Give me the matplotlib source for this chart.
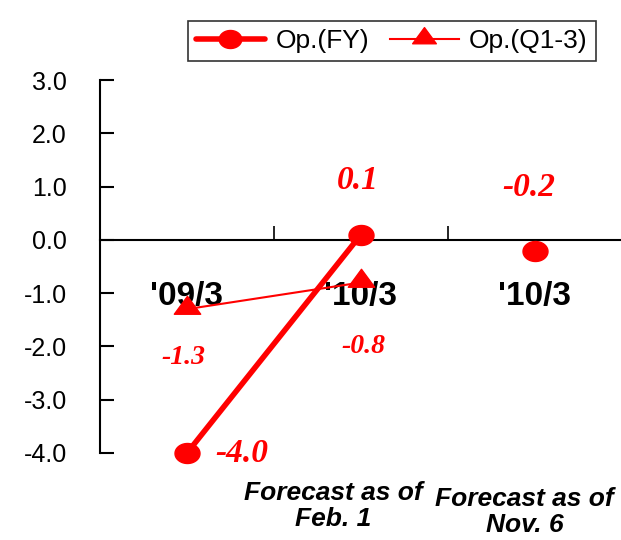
import matplotlib
matplotlib.use("Agg")
import numpy as np
import matplotlib.pyplot as plt
from matplotlib.path import Path
from matplotlib.transforms import blended_transform_factory

plt.rcParams['font.family'] = ['Liberation Sans', 'DejaVu Sans']

# Category labels and sub-captions
categories = ["'09/3", "'10/3", "'10/3"]
captions = ["", "Forecast as of\nFeb. 1", "Forecast as of\nNov. 6"]

# Operating income values
fy_line = [-4.0, 0.1]          # FY results, connected
fy_point = [-0.2]              # Latest FY forecast, standalone
q13_line = [-1.3, -0.8]        # Q1-3 results

y_ticks = [3.0, 2.0, 1.0, 0.0, -1.0, -2.0, -3.0, -4.0]

red = "#ff0000"

# Slightly flattened marker shapes
t = np.linspace(0, 2 * np.pi, 60)
ellipse = Path(np.column_stack([np.cos(t), 0.8 * np.sin(t)]), closed=True)
tri = Path([(-1, -0.36), (1, -0.36), (0, 1.0), (-1, -0.36)], closed=True)

fig = plt.figure(figsize=(6.21, 5.40), dpi=100)
ax = fig.add_axes([100 / 621, 1 - 453 / 540, 522 / 621, (453 - 80) / 540])

x_fy = [0, 1]
x_fy_pt = [2]
x_q = [0, 1]

ax.plot(x_fy, fy_line, color=red, lw=4, marker=ellipse, ms=18,
        solid_capstyle='round', label='Op.(FY)', zorder=4, clip_on=False)
ax.plot(x_fy_pt, fy_point, color=red, lw=0, marker=ellipse, ms=18,
        zorder=4, clip_on=False)
ax.plot(x_q, q13_line, color=red, lw=1.5, marker=tri, ms=19,
        label='Op.(Q1-3)', zorder=3, clip_on=False)

ax.set_xlim(-0.5, 2.5)
ax.set_ylim(-4.0, 3.0)

for s in ['top', 'right']:
    ax.spines[s].set_visible(False)
ax.spines['bottom'].set_position(('data', 0))
ax.spines['left'].set_linewidth(1.5)
ax.spines['bottom'].set_linewidth(1.5)

ax.set_yticks(y_ticks)
ax.set_yticklabels([f"{v:.1f}" for v in y_ticks], fontsize=18)
ax.tick_params(axis='y', direction='in', length=10, width=1.5, pad=24)
ax.set_xticks([0.5, 1.5])
ax.set_xticklabels([])
ax.tick_params(axis='x', direction='in', length=10, width=1.2)

# Category names inside the plot, below the zero line
for i, c in enumerate(categories):
    ax.text(i, -1.07, c, ha='center', va='center', fontsize=24,
            fontweight='bold', zorder=2)

# Value labels
fy_all = fy_line + fy_point
fy_x = x_fy + x_fy_pt
fy_offsets = [(0.316, 0.0), (-0.02, 1.01), (-0.035, 1.19)]
for x, v, (dx, dy) in zip(fy_x, fy_all, fy_offsets):
    ax.text(x + dx, v + dy, f"{v:.1f}", ha='center', va='center',
            fontsize=24, color=red, fontweight='bold', fontstyle='italic',
            family='Liberation Serif')
q_offsets = [(-0.02, -0.91), (0.015, -1.2)]
for x, v, (dx, dy) in zip(x_q, q13_line, q_offsets):
    ax.text(x + dx, v + dy, f"{v:.1f}", ha='center', va='center',
            fontsize=20, color=red, fontweight='bold', fontstyle='italic',
            family='Liberation Serif')

# Captions below the chart
trans = blended_transform_factory(ax.transData, fig.transFigure)
cap_pos = [(None, None), (0.84, 1 - 506 / 540), (1.94, 1 - 512 / 540)]
for cap, (cx, cy) in zip(captions, cap_pos):
    if cap:
        ax.text(cx, cy, cap, transform=trans, ha='center', va='center',
                fontsize=19, fontweight='bold', fontstyle='italic',
                linespacing=1.1, clip_on=False)

leg = fig.legend(loc='center', bbox_to_anchor=(392 / 621, 1 - 41 / 540),
                 ncol=2, fontsize=19, frameon=True, fancybox=False,
                 edgecolor='black', handlelength=2.6, columnspacing=0.8,
                 handletextpad=0.4, borderpad=0.3, borderaxespad=0,
                 markerscale=0.9)
leg.get_frame().set_linewidth(1.2)

fig.savefig("out.png", dpi=100)
